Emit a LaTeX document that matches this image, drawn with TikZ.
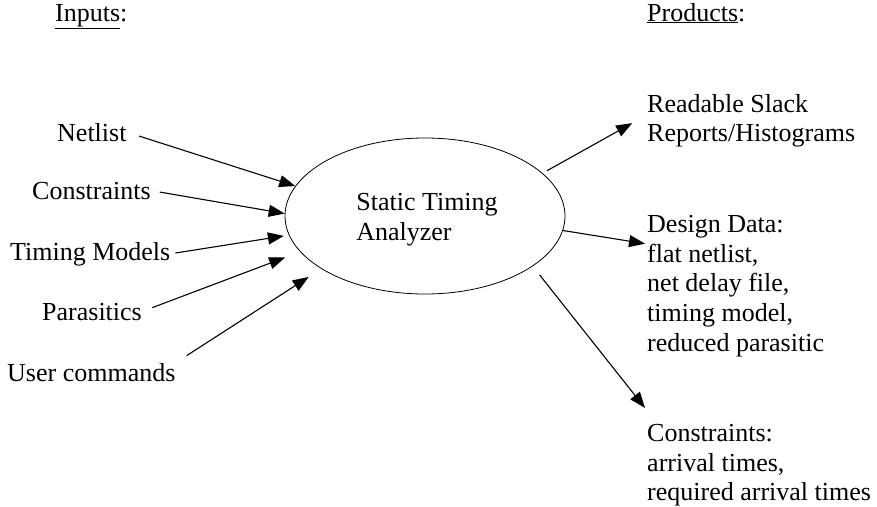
\documentclass[tikz,border=0pt]{standalone}
\usepackage{fontspec}
\setmainfont{Liberation Serif}
\usetikzlibrary{arrows.meta,shapes.geometric}

\begin{document}
\begin{tikzpicture}[x=1pt, y=-1pt,
	txt/.style={inner sep=0pt, font=\fontsize{26}{29.7}\selectfont},
	blk/.style={txt, align=left, anchor=north west},
	arr/.style={line width=1.1pt, -{Triangle[length=16pt,width=12pt]}}]
	\useasboundingbox (0,0) rectangle (877,506);

	%headings
	\node[txt, anchor=base west] (inp) at (55,21) {\underline{Inputs}:};
	\node[txt, anchor=base west] (prd) at (647,21) {\underline{Products}:};

	%analyzer
	\node[ellipse, draw, line width=0.8pt, minimum width=280pt, minimum height=156pt] (sta) at (425,216) {};
	\node[txt, align=left] (stt) at ([xshift=2pt, yshift=-4pt]sta.center) {Static Timing\\Analyzer};

	%inputs
	\node[txt, anchor=base west] (net) at (57,141) {Netlist};
	\node[txt, anchor=base west] (con) at (32,199) {Constraints};
	\node[txt, anchor=base west] (tim) at (10,260) {Timing Models};
	\node[txt, anchor=base west] (par) at (42,320) {Parasitics};
	\node[txt, anchor=base west] (usr) at (7,381) {User commands};

	\draw[arr, shorten <=13pt] (net.east) -- (sta.167);
	\draw[arr, shorten <=9pt] (con.east) -- (sta.179);
	\draw[arr, shorten <=5pt, shorten >=5pt] (tim.east) -- (sta.188);
	\draw[arr, shorten <=11pt, shorten >=16pt] (par.east) -- (sta.196);
	\draw[arr, shorten <=13pt, shorten >=15pt] (usr.north east) -- (sta.207);

	%products
	\node[blk] (rds) at (647,94) {Readable Slack\\Reports/Histograms};
	\node[blk] (dsd) at (647,215) {Design Data:\\flat netlist,\\net delay file,\\timing model,\\reduced parasitic};
	\node[blk] (cst) at (647,424) {Constraints:\\arrival times,\\required arrival times};

	\draw[arr, shorten <=5pt, shorten >=17pt] (sta.20) -- ([yshift=6pt]rds.west);
	\draw[arr, shorten >=2pt] (sta.-6) -- ([yshift=-29pt]dsd.north west);
	\draw[arr, shorten <=11pt] (sta.-25) -- ([xshift=-2pt, yshift=16pt]cst.north west);
\end{tikzpicture}
\end{document}
